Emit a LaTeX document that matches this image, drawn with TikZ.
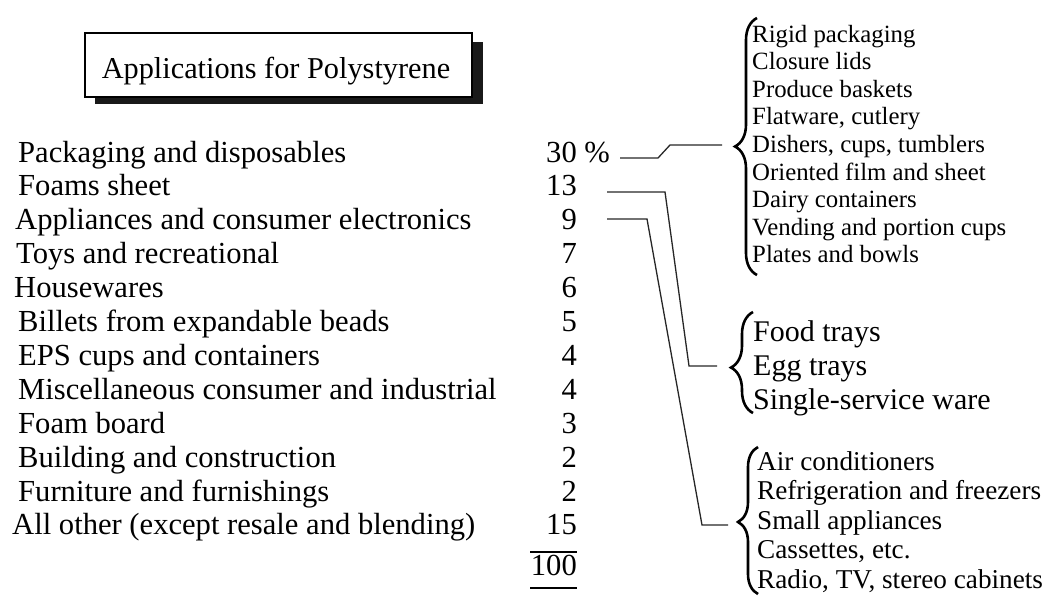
\documentclass[tikz,border=0pt]{standalone}
\usepackage{fontspec}
\setmainfont{Liberation Serif}
\usetikzlibrary{decorations.pathreplacing}
\begin{document}
\begin{tikzpicture}[x=1pt,y=-1pt,
  mainrow/.style={anchor=base west, inner sep=0pt, font=\fontsize{30.6}{36}\selectfont},
  numrow/.style={anchor=base east, inner sep=0pt, font=\fontsize{30.6}{36}\selectfont},
  subA/.style={anchor=base west, inner sep=0pt, font=\fontsize{24.8}{30}\selectfont},
  subB/.style={anchor=base west, inner sep=0pt, font=\fontsize{30}{36}\selectfont},
  subC/.style={anchor=base west, inner sep=0pt, font=\fontsize{27.2}{32}\selectfont},
  conn/.style={line width=1.3pt, black!85},
  bracestyle/.style={decorate, line width=2.6pt}
]
\useasboundingbox (0,0) rectangle (1051,595);

% title box with shadow
\fill[black!90] (95,42) rectangle (483,104);
\node[draw, fill=white, line width=2pt, minimum width=387pt, minimum height=64pt, inner sep=0pt] (box) at (278.5,65) {};
\node[anchor=base, inner sep=0pt, font=\fontsize{30.3}{36}\selectfont] (title) at (276,78) {Applications for Polystyrene};

% left column
\foreach \xx/\txt [count=\i from 0] in {
  18/Packaging and disposables,
  18/Foams sheet,
  15/Appliances and consumer electronics,
  16/Toys and recreational,
  14/Housewares,
  18/Billets from expandable beads,
  18/EPS cups and containers,
  18/Miscellaneous consumer and industrial,
  18/Foam board,
  18/Building and construction,
  18/Furniture and furnishings,
  12/All other (except resale and blending)}
{
  \node[mainrow] (l\i) at (\xx,162+33.9*\i) {\txt};
}

% numbers
\node[numrow] (n0) at (577,162) {30\rlap{\ \%}};
\foreach \v [count=\i from 1] in {13,9,7,6,5,4,4,3,2,2,15}
{
  \node[numrow] (n\i) at (577,162+33.9*\i) {\v};
}
\node[numrow] (ntot) at (577,575) {100};
\draw[line width=1.6pt] (530,552) -- (577,552);
\draw[line width=1.6pt] (530,588) -- (577,588);

% group 1
\foreach \txt [count=\i from 0] in {
  Rigid packaging, Closure lids, Produce baskets, {Flatware, cutlery},
  {Dishers, cups, tumblers}, Oriented film and sheet, Dairy containers,
  Vending and portion cups, Plates and bowls}
{
  \node[subA] (a\i) at (752,42+27.6*\i) {\txt};
}
\draw[bracestyle, decoration={brace, amplitude=22pt, aspect=0.5}] (757,275) -- (757,18);

% group 2
\node[subB] (b0) at (753,341) {Food trays};
\node[subB] (b1) at (753,375) {Egg trays};
\node[subB] (b2) at (753,409) {Single-service ware};
\draw[bracestyle, decoration={brace, amplitude=22pt, aspect=0.45}] (753,413) -- (753,312);

% group 3
\foreach \txt [count=\i from 0] in {
  Air conditioners, Refrigeration and freezers, Small appliances,
  {Cassettes, etc.}, {Radio, TV, stereo cabinets}}
{
  \node[subC] (c\i) at (757,470+29.5*\i) {\txt};
}
\draw[bracestyle, decoration={brace, amplitude=20pt, aspect=0.49}] (758,594) -- (758,447);

% connectors
\coordinate (s1) at (620,158);
\coordinate (e1) at (722,145);
\coordinate (s2) at (607,192);
\coordinate (e2) at (717,366);
\coordinate (s3) at (607,219);
\coordinate (e3) at (728,525);
\draw[conn] (s1) -- (658,158) -- (670,145) -- (e1);
\draw[conn] (s2) -- (665,192) -- (689,366) -- (e2);
\draw[conn] (s3) -- (647,219) -- (702,525) -- (e3);
\end{tikzpicture}
\end{document}
